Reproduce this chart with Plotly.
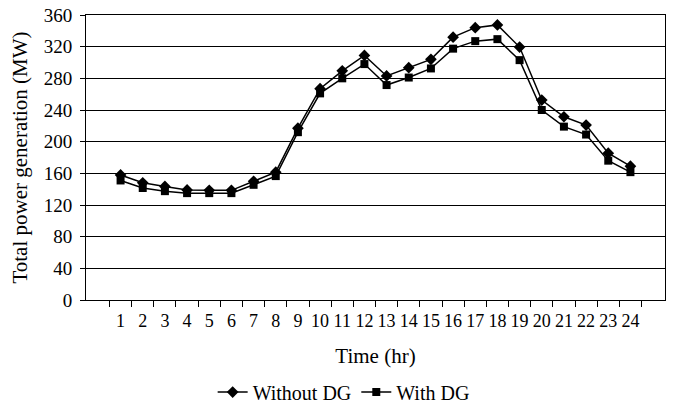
import plotly.graph_objects as go

hours = [str(h) for h in range(1, 25)]
without_dg = [158, 148, 143.5, 139, 138.5, 138.5, 150, 161.5, 217, 267, 289.5, 309,
              283, 293.5, 304, 332, 344, 347.5, 319.5, 252.5, 231.5, 221, 185.5, 169]
with_dg = [151, 141.5, 137.5, 135, 135, 135, 145.5, 156.5, 212, 261, 280, 298,
           271.5, 281, 292.5, 317.5, 327, 329.5, 303, 240, 219, 209, 176, 161.5]
y_ticks = [0, 40, 80, 120, 160, 200, 240, 280, 320, 360]

FONT = "Liberation Serif"

fig = go.Figure()
fig.add_trace(go.Scatter(x=hours, y=without_dg, name="Without DG", mode="lines+markers",
                         line=dict(color="black", width=1.5),
                         marker=dict(symbol="diamond", size=9, color="black")))
fig.add_trace(go.Scatter(x=hours, y=with_dg, name="With DG", mode="lines+markers",
                         line=dict(color="black", width=1.5),
                         marker=dict(symbol="square", size=8, color="black")))

fig.update_layout(
    width=674, height=411,
    margin=dict(l=86, r=9, t=15, b=111, autoexpand=False),
    paper_bgcolor="white", plot_bgcolor="white",
    font=dict(family=FONT, size=19, color="black"),
    showlegend=True,
    legend=dict(orientation="h", x=0.445, xanchor="center", y=-0.323, yanchor="middle",
                font=dict(family=FONT, size=20), tracegroupgap=0),
    xaxis=dict(type="category", tickson="boundaries", ticks="outside", ticklen=6,
               tickangle=0, automargin=False, ticklabeloverflow="allow",
               ticklabelstandoff=4,
               tickcolor="black", showline=True, linecolor="black", linewidth=1,
               mirror=True, showgrid=False, tickfont=dict(family=FONT, size=18),
               title=dict(text="Time (hr)", font=dict(family=FONT, size=21), standoff=18)),
    yaxis=dict(range=[0, 360], tickvals=y_ticks, ticks="outside", ticklen=5,
               automargin=False, ticklabeloverflow="allow", ticklabelstandoff=4,
               tickcolor="black", showline=True, linecolor="black", linewidth=1,
               mirror=True, showgrid=True, gridcolor="black", gridwidth=1,
               zeroline=False, tickfont=dict(family=FONT, size=19),
               title=dict(text="Total power generation (MW)", font=dict(family=FONT, size=21),
                          standoff=10)),
)

fig.write_html("out.html", config={"displayModeBar": False},
               post_script="document.body.style.margin='0';")
